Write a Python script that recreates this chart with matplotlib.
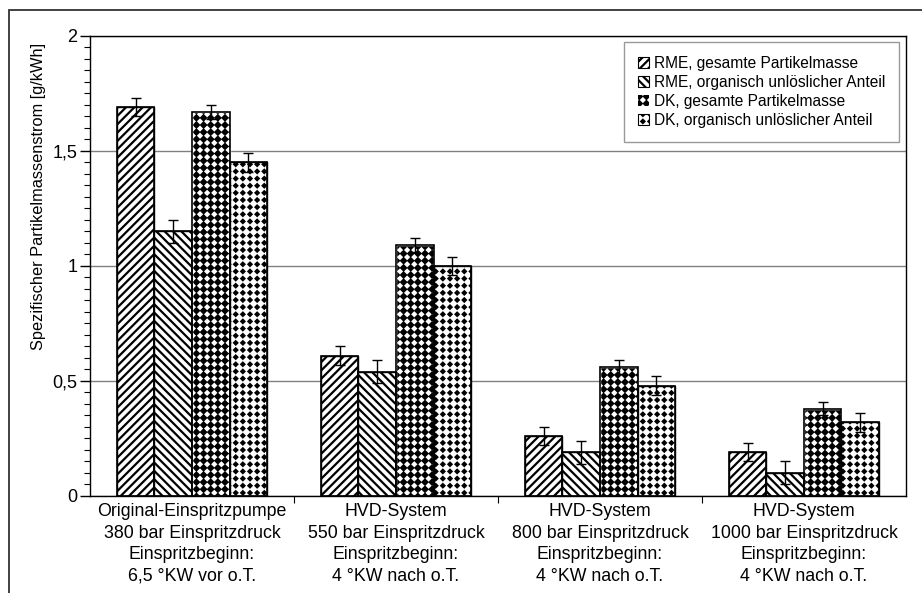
import numpy as np
import matplotlib
matplotlib.use("Agg")
import matplotlib.pyplot as plt
import matplotlib.hatch as mhatch
from matplotlib.path import Path
from matplotlib.patches import Rectangle
from matplotlib.ticker import MultipleLocator, FuncFormatter, FixedLocator

# Messwerte spezifischer Partikelmassenstrom [g/kWh]
betriebspunkte = [
    "Original-Einspritzpumpe\n380 bar Einspritzdruck\nEinspritzbeginn:\n6,5 °KW vor o.T.",
    "HVD-System\n550 bar Einspritzdruck\nEinspritzbeginn:\n4 °KW nach o.T.",
    "HVD-System\n800 bar Einspritzdruck\nEinspritzbeginn:\n4 °KW nach o.T.",
    "HVD-System\n1000 bar Einspritzdruck\nEinspritzbeginn:\n4 °KW nach o.T.",
]
serien = [
    "RME, gesamte Partikelmasse",
    "RME, organisch unlöslicher Anteil",
    "DK, gesamte Partikelmasse",
    "DK, organisch unlöslicher Anteil",
]
rme_gesamt = [1.69, 0.61, 0.26, 0.19]
rme_organisch = [1.15, 0.54, 0.19, 0.10]
dk_gesamt = [1.67, 1.09, 0.56, 0.38]
dk_organisch = [1.45, 1.00, 0.48, 0.32]
rme_gesamt_err = [0.04, 0.04, 0.04, 0.04]
rme_organisch_err = [0.05, 0.05, 0.05, 0.05]
dk_gesamt_err = [0.03, 0.03, 0.03, 0.03]
dk_organisch_err = [0.04, 0.04, 0.04, 0.04]


class DiamondGrid(mhatch.HatchPatternBase):
    """Square lattice of filled diamonds, used for the '*' hatch."""
    shape = np.array([[0, -1], [1, 0], [0, 1], [-1, 0], [0, -1]], float)
    size = 0.22

    def __init__(self, hatch, density):
        self.num_rows = hatch.count('*') * 14
        self.num_vertices = (self.num_rows + 1) ** 2 * len(self.shape)

    def set_vertices_and_codes(self, vertices, codes):
        if self.num_rows == 0:
            return
        step = 1.0 / self.num_rows
        pos = np.arange(self.num_rows + 1) * step
        parts = [self.shape * step * self.size + [x, y] for y in pos for x in pos]
        vertices[:] = np.concatenate(parts)
        one = [Path.MOVETO] + [Path.LINETO] * (len(self.shape) - 2) + [Path.CLOSEPOLY]
        codes[:] = np.tile(one, len(parts))


mhatch._hatch_types[mhatch._hatch_types.index(mhatch.Stars)] = DiamondGrid

plt.rcParams['font.family'] = ['Liberation Sans', 'DejaVu Sans']
plt.rcParams['hatch.linewidth'] = 1.6

fig = plt.figure(figsize=(9.22, 5.93), dpi=100)
ax = fig.add_axes([0.0976, 0.1636, 0.8850, 0.7757])

# Rahmen um die gesamte Grafik
fig.patches.append(Rectangle((9 / 922, -0.1), 1.0, 0.1 + (593 - 10) / 593,
                             transform=fig.transFigure, fill=False,
                             edgecolor='#333333', linewidth=1.3))

x = np.arange(len(betriebspunkte))
w = 0.184
werte = [rme_gesamt, rme_organisch, dk_gesamt, dk_organisch]
fehler = [rme_gesamt_err, rme_organisch_err, dk_gesamt_err, dk_organisch_err]
stile = [
    dict(color='white', edgecolor='black', hatch='////'),
    dict(color='white', edgecolor='black', hatch='\\\\\\\\'),
    dict(color='black', edgecolor='white', hatch='*'),
    dict(color='white', edgecolor='black', hatch='*'),
]

for i, (vals, errs, stil, name) in enumerate(zip(werte, fehler, stile, serien)):
    pos = x + (i - 1.5) * w
    ax.bar(pos, vals, w, linewidth=1.0, label=name, zorder=2, **stil)
    # schwarze Kontur (auch für die Balken mit weißem Muster)
    ax.bar(pos, vals, w, fill=False, edgecolor='black', linewidth=1.2, zorder=3)
    ax.errorbar(pos, vals, yerr=errs, fmt='none', ecolor='black',
                elinewidth=1.0, capsize=3.5, capthick=1.0, zorder=4)

ax.set_xlim(-0.5, len(betriebspunkte) - 0.5)
ax.set_ylim(0, 2)

ax.yaxis.set_major_locator(MultipleLocator(0.5))
ax.yaxis.set_minor_locator(MultipleLocator(0.05))
ax.yaxis.set_major_formatter(FuncFormatter(lambda v, p: f"{v:g}".replace('.', ',')))
ax.tick_params(axis='y', which='major', length=7, width=1, pad=2, labelsize=13)
ax.tick_params(axis='y', which='minor', length=4, width=0.8)

ax.set_xticks(x)
ax.set_xticklabels(betriebspunkte, fontsize=12.8, linespacing=1.36)
ax.xaxis.set_minor_locator(FixedLocator(x[:-1] + 0.5))
ax.tick_params(axis='x', which='major', length=0, pad=5)
ax.tick_params(axis='x', which='minor', length=5, width=0.8)

ax.grid(axis='y', which='major', color='#808080', linewidth=1.0, zorder=0)
ax.set_axisbelow(True)
for s in ax.spines.values():
    s.set_linewidth(1.0)
    s.set_color('black')

ax.set_ylabel("Spezifischer Partikelmassenstrom [g/kWh]", fontsize=11.8)
ax.yaxis.set_label_coords(-0.054, 0.652)

leg = ax.legend(loc='upper right', bbox_to_anchor=(0.9914, 0.987),
                fontsize=11.2, frameon=True, fancybox=False,
                handlelength=0.7, handleheight=0.7, handletextpad=0.3,
                labelspacing=0.26, borderpad=0.9, borderaxespad=0)
leg.get_frame().set_edgecolor('#808080')
leg.get_frame().set_linewidth(1.0)
for h in leg.legend_handles:
    h.set_linewidth(0.8)
leg.legend_handles[2].set_linewidth(0)

fig.savefig("out.png", dpi=100)
